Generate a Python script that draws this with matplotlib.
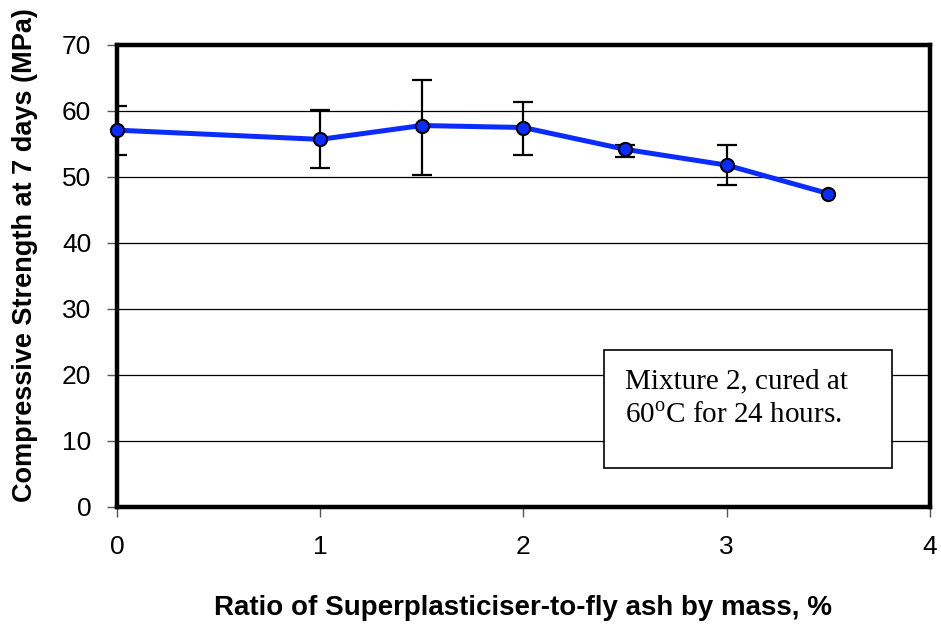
import matplotlib
matplotlib.use("Agg")
import matplotlib.pyplot as plt
from matplotlib.patches import Rectangle

plt.rcParams['font.family'] = ['Liberation Sans', 'DejaVu Sans']
plt.rcParams['mathtext.fontset'] = 'custom'
plt.rcParams['mathtext.rm'] = 'Liberation Serif'

# data
ratio = [0, 1, 1.5, 2, 2.5, 3, 3.5]
strength = [57.1, 55.7, 57.8, 57.5, 54.2, 51.8, 47.5]
err_low = [3.7, 4.4, 7.5, 4.1, 1.2, 3.0, 0.0]
err_high = [3.7, 4.4, 6.9, 3.8, 0.6, 3.0, 0.0]

fig = plt.figure(figsize=(9.41, 6.25), dpi=100)
ax = fig.add_axes([0.1243, 0.1888, 0.8637, 0.7392])

ax.set_axisbelow(True)
ax.yaxis.grid(True, color='black', linewidth=0.9)

# only points that have an error bar
eb = [i for i in range(len(ratio)) if err_low[i] > 0 or err_high[i] > 0]
ax.errorbar([ratio[i] for i in eb], [strength[i] for i in eb],
            yerr=[[err_low[i] for i in eb], [err_high[i] for i in eb]],
            fmt='none', ecolor='black', elinewidth=1.6, capsize=7,
            capthick=1.6, zorder=2)
ax.plot(ratio, strength, color='#0a2cff', linewidth=3.6, marker='o',
        markersize=9.5, markerfacecolor='#0a2cff', markeredgecolor='black',
        markeredgewidth=1.5, zorder=3, clip_on=False)

ax.set_xlim(0, 4)
ax.set_ylim(0, 70)
ax.set_xticks([0, 1, 2, 3, 4])
ax.set_yticks(range(0, 71, 10))
ax.tick_params(labelsize=19, width=1, direction='out', color='#555555')
ax.tick_params(axis='y', length=7.5, pad=11)
ax.tick_params(axis='x', length=7, pad=13)

for s in ax.spines.values():
    s.set_linewidth(3.2)

fig.text(0.556, 0.016, 'Ratio of Superplasticiser-to-fly ash by mass, %',
         fontsize=20, fontweight='bold', ha='center', va='baseline')
fig.text(0.027, 0.592, 'Compressive Strength at 7 days (MPa)',
         fontsize=19.5, fontweight='bold', ha='center', va='center',
         rotation=90)

# annotation box
ax.add_patch(Rectangle((0.599, 0.0844), 0.354, 0.2556, transform=ax.transAxes,
                       facecolor='white', edgecolor='black', linewidth=1.2,
                       zorder=4))
ax.text(0.625, 0.2576, 'Mixture 2, cured at', transform=ax.transAxes,
        fontsize=21, family='Liberation Serif', va='baseline', ha='left',
        zorder=5)
ax.text(0.625, 0.182, '60$^{\\mathrm{o}}$C for 24 hours.',
        transform=ax.transAxes, fontsize=21, family='Liberation Serif',
        va='baseline', ha='left', zorder=5)

fig.savefig('out.png', dpi=100)
